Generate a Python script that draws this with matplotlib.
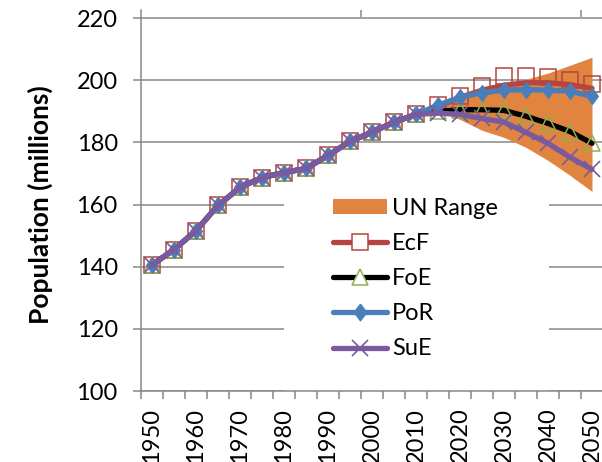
import numpy as np
import matplotlib
matplotlib.use("Agg")
import matplotlib.pyplot as plt
from matplotlib.lines import Line2D
from matplotlib.patches import Patch, Rectangle

# data
years = list(range(1950, 2051, 5))
history = [140.6, 145.5, 151.6, 159.7, 165.5, 168.7, 170.3,
           171.6, 175.8, 180.3, 183.3, 186.5, 189.0]          # 1950-2010
# 2015-2050
ecf_pts = [192.0, 194.8, 198.2, 201.3, 201.4, 201.0, 200.0, 198.7]
ecf_line = [191.5, 194.5, 196.8, 198.4, 199.2, 199.2, 198.6, 197.4]
foe = [190.0, 190.5, 190.5, 190.3, 188.4, 186.1, 183.5, 179.7]
por = [192.0, 194.5, 196.0, 196.8, 197.0, 196.8, 196.5, 194.8]
sue = [189.4, 189.0, 187.7, 186.5, 183.2, 179.7, 175.2, 171.3]
un_low = [190.0, 187.4, 183.9, 181.6, 178.4, 174.2, 169.4, 164.2]
un_high = [191.0, 194.0, 196.5, 198.5, 200.3, 202.3, 204.8, 207.4]
labels = ["UN Range", "EcF", "FoE", "PoR", "SuE"]

ORANGE = "#E0843F"
RED = "#B5453F"
GREEN = "#8DB04A"
BLUE = "#4A7EBB"
PURPLE = "#7A5A9E"
GRID = "#878787"

plt.rcParams["font.family"] = ["Lato", "DejaVu Sans"]

fig = plt.figure(figsize=(6.02, 4.62), dpi=100)
ax = fig.add_axes([141 / 602, 1 - 391 / 462, 462 / 602, 381 / 462])

x = np.arange(len(years))
fx = x[len(history):]
diamond = [(0, 1), (0.75, 0), (0, -1), (-0.75, 0), (0, 1)]
LW = 3.8

ax.fill_between(fx, un_low, un_high, color=ORANGE, lw=0, zorder=2)

ax.plot(x, history + ecf_line, color=RED, lw=LW, solid_capstyle="round", zorder=3)
ax.plot(x, history + ecf_pts, ls="none", marker="s", ms=11, mfc="none",
        mec=RED, mew=1.1, zorder=3.1)

ax.plot(x, history + foe, color="black", lw=LW, solid_capstyle="round", zorder=4)
ax.plot(x, history + foe, ls="none", marker="^", ms=11.5, mfc="none",
        mec=GREEN, mew=1.1, zorder=4.1)

ax.plot(x, history + por, color=BLUE, lw=LW, solid_capstyle="round", zorder=5)
ax.plot(x, history + por, ls="none", marker=diamond, ms=12, mfc=BLUE,
        mec=BLUE, mew=0.5, zorder=5.1)

ax.plot(x, history + sue, color=PURPLE, lw=LW, solid_capstyle="round", zorder=6)
ax.plot(x, history + sue, ls="none", marker="x", ms=12, mec=PURPLE,
        mew=1.2, zorder=6.1)

# axes styling
ax.set_xlim(-0.5, len(years) - 0.5)
ax.set_ylim(100, 222.6)
ax.set_yticks(range(100, 221, 20))
ax.yaxis.grid(True, color=GRID, lw=1.1)
ax.set_axisbelow(True)
for s in ["top", "right"]:
    ax.spines[s].set_visible(False)
for s in ["left", "bottom"]:
    ax.spines[s].set_color(GRID)
    ax.spines[s].set_linewidth(1.1)

ax.set_xticks(x[::2])
ax.set_xticklabels([str(y) for y in years[::2]], rotation=90, fontsize=17)
ax.set_xticks(np.arange(-0.5, len(years), 1), minor=True)
ax.tick_params(axis="x", which="major", length=0, pad=12)
ax.tick_params(axis="x", which="minor", length=5.8, width=1.1, color=GRID)
ax.tick_params(axis="y", length=5.8, width=1.1, color=GRID, pad=11, labelsize=17)

top = ax.secondary_xaxis("top")
top.set_xticks([9.5, 19.5])
top.tick_params(direction="in", length=5, width=1.1, color=GRID, labeltop=False)
top.spines["top"].set_visible(False)

ax.set_ylabel("Population (millions)", fontsize=19, fontweight="bold")
ax.yaxis.set_label_coords(-0.19, 0.488)

# legend with a white box over the gridlines
ax.add_patch(Rectangle((0.31, 0.0), 0.573, 0.58, transform=ax.transAxes,
                       facecolor="white", edgecolor="none", zorder=1))
handles = [
    Patch(facecolor=ORANGE, edgecolor="none"),
    Line2D([], [], color=RED, lw=LW, solid_capstyle="round", marker="s",
           ms=11, mfc="white", mec=RED, mew=1.1),
    Line2D([], [], color="black", lw=LW, solid_capstyle="round", marker="^",
           ms=11.5, mfc="white", mec=GREEN, mew=1.1),
    Line2D([], [], color=BLUE, lw=LW, solid_capstyle="round", marker=diamond,
           ms=12, mfc=BLUE, mec=BLUE),
    Line2D([], [], color=PURPLE, lw=LW, solid_capstyle="round", marker="x",
           ms=12, mec=PURPLE, mew=1.2),
]
ax.legend(handles, labels, loc="upper left", bbox_to_anchor=(0.4156, 0.507),
          frameon=False, fontsize=17, borderpad=0, borderaxespad=0,
          handlelength=2.29, handleheight=0.6, handletextpad=0.2,
          labelspacing=0.6)

fig.savefig("out.png", dpi=100)
